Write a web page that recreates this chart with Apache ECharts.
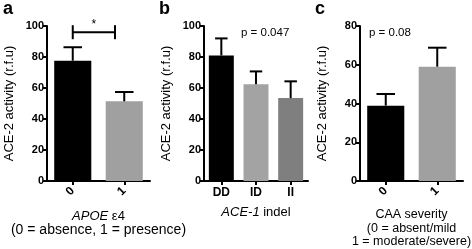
<!DOCTYPE html>
<html>
<head>
<meta charset="UTF-8">
<title>ACE-2 activity</title>
<script src="https://cdn.jsdelivr.net/npm/echarts@6/dist/echarts.min.js"></script>
</head>
<body style="margin:0">
<div id="chart" style="width:472px;height:249px"></div>
<script>
  // panel a: APOE e4
  const apoeCats = ['0', '1'];
  const apoeMeans = [77.6, 51.4];
  const apoeSem = [8.7, 6.0];
  const apoeColors = ['#000000', '#a0a0a0'];
  // significance bracket in panel a: [from, to, height]
  const apoeBracket = [0, 1, 96];

  // panel b: ACE-1 indel
  const aceCats = ['DD', 'ID', 'II'];
  const aceMeans = [81, 62.5, 53.5];
  const aceSem = [11, 8.2, 10.8];
  const aceColors = ['#000000', '#a3a3a3', '#7f7f7f'];

  // panel c: CAA severity
  const caaCats = ['0', '1'];
  const caaMeans = [38.9, 59.0];
  const caaSem = [6.0, 9.8];
  const caaColors = ['#000000', '#a0a0a0'];

  const font = '"Liberation Sans", Arial, sans-serif';
  const barPct = 0.72;

  let chart = echarts.init(document.getElementById('chart'));

  function yAxis(idx, max) {
    return {
      gridIndex: idx, type: 'value', min: 0, max: max, interval: 20,
      name: 'ACE-2 activity (r.f.u)', nameLocation: 'middle', nameGap: 31, nameRotate: 90,
      nameTextStyle: { fontFamily: font, fontSize: 13, color: '#000' },
      axisLine: { show: true, lineStyle: { color: '#000', width: 2 } },
      axisTick: { show: true, length: 4, lineStyle: { color: '#000', width: 2 } },
      axisLabel: { fontFamily: font, fontSize: 11, fontWeight: 'bold', color: '#000', margin: 3 },
      splitLine: { show: false }
    };
  }

  function xAxis(idx, cats, rotate, name, gap, size) {
    return {
      gridIndex: idx, type: 'category', data: cats,
      name: name, nameLocation: 'middle', nameGap: gap,
      nameTextStyle: {
        fontFamily: font, fontSize: size, color: '#000', lineHeight: size + 1, verticalAlign: 'top',
        rich: {
          i: { fontFamily: font, fontSize: size, fontStyle: 'italic', color: '#000', lineHeight: size + 1 },
          w: { fontFamily: font, fontSize: 14, color: '#000', lineHeight: 15 }
        }
      },
      axisLine: { show: true, lineStyle: { color: '#000', width: 2 } },
      axisTick: { show: true, alignWithLabel: true, length: 4, lineStyle: { color: '#000', width: 2 } },
      axisLabel: {
        fontFamily: font, fontSize: 12, fontWeight: 'bold', color: '#000',
        rotate: rotate, margin: rotate ? 8 : 6, interval: 0
      },
      splitLine: { show: false }
    };
  }

  function bars(idx, means, colors) {
    return {
      type: 'bar', xAxisIndex: idx, yAxisIndex: idx, barWidth: (barPct * 100) + '%',
      data: means.map((v, i) => ({ value: v, itemStyle: { color: colors[i] } })),
      z: 2
    };
  }

  function errorBars(idx, means, sem) {
    return {
      type: 'custom', xAxisIndex: idx, yAxisIndex: idx, z: 3,
      encode: { x: 0, y: 1 },
      data: means.map((v, i) => [i, v, sem[i]]),
      renderItem: function (params, api) {
        let i = api.value(0), v = api.value(1), e = api.value(2);
        let base = api.coord([i, v]);
        let top = api.coord([i, v + e]);
        let cap = api.size([1, 0])[0] * barPct / 4;
        let style = { stroke: '#000', lineWidth: 2 };
        return {
          type: 'group',
          children: [
            { type: 'line', shape: { x1: base[0], y1: base[1], x2: top[0], y2: top[1] }, style: style },
            { type: 'line', shape: { x1: top[0] - cap, y1: top[1], x2: top[0] + cap, y2: top[1] }, style: style }
          ]
        };
      }
    };
  }

  let bracketSeries = {
    type: 'custom', xAxisIndex: 0, yAxisIndex: 0, z: 3,
    encode: { x: 0, y: 2 },
    data: [apoeBracket],
    renderItem: function (params, api) {
      let band = api.size([1, 0])[0];
      let p0 = api.coord([api.value(0), api.value(2)]);
      let p1 = api.coord([api.value(1), api.value(2)]);
      let x1 = p1[0] - band * 0.18;
      let h = 7;
      let style = { stroke: '#000', lineWidth: 2 };
      return {
        type: 'group',
        children: [
          { type: 'line', shape: { x1: p0[0], y1: p0[1], x2: x1, y2: p0[1] }, style: style },
          { type: 'line', shape: { x1: p0[0], y1: p0[1] - h, x2: p0[0], y2: p0[1] + h }, style: style },
          { type: 'line', shape: { x1: x1, y1: p0[1] - h, x2: x1, y2: p0[1] + h }, style: style },
          { type: 'text', style: { x: (p0[0] + x1) / 2, y: p0[1] - 2, text: '*', font: '12px ' + font, fill: '#000', align: 'center', verticalAlign: 'bottom' } }
        ]
      };
    }
  };

  function letter(t, x) {
    return { type: 'text', left: x, top: 0, style: { text: t, font: 'bold 18px ' + font, fill: '#000' } };
  }

  let option = {
    animation: false,
    grid: [
      { left: 47, top: 26, width: 103, height: 155, outerBoundsMode: 'none' },
      { left: 204, top: 26, width: 104, height: 155, outerBoundsMode: 'none' },
      { left: 360, top: 26, width: 103, height: 155, outerBoundsMode: 'none' }
    ],
    xAxis: [
      xAxis(0, apoeCats, 45, '{i|APOE} ε4\n{w|(0 = absence, 1 = presence)}', 28, 13),
      xAxis(1, aceCats, 0, '{i|ACE-1} indel', 24, 13),
      xAxis(2, caaCats, 45, 'CAA severity\n(0 = absent/mild\n1 = moderate/severe)', 27, 12.5)
    ],
    yAxis: [yAxis(0, 100), yAxis(1, 100), yAxis(2, 80)],
    graphic: [
      letter('a', 3), letter('b', 159), letter('c', 315),
      { type: 'text', left: 241, top: 27, style: { text: 'p = 0.047', font: '11.5px ' + font, fill: '#000' } },
      { type: 'text', left: 369, top: 27, style: { text: 'p = 0.08', font: '11.5px ' + font, fill: '#000' } }
    ],
    series: [
      bars(0, apoeMeans, apoeColors), errorBars(0, apoeMeans, apoeSem), bracketSeries,
      bars(1, aceMeans, aceColors), errorBars(1, aceMeans, aceSem),
      bars(2, caaMeans, caaColors), errorBars(2, caaMeans, caaSem)
    ]
  };
  chart.setOption(option);
</script>
</body>
</html>
